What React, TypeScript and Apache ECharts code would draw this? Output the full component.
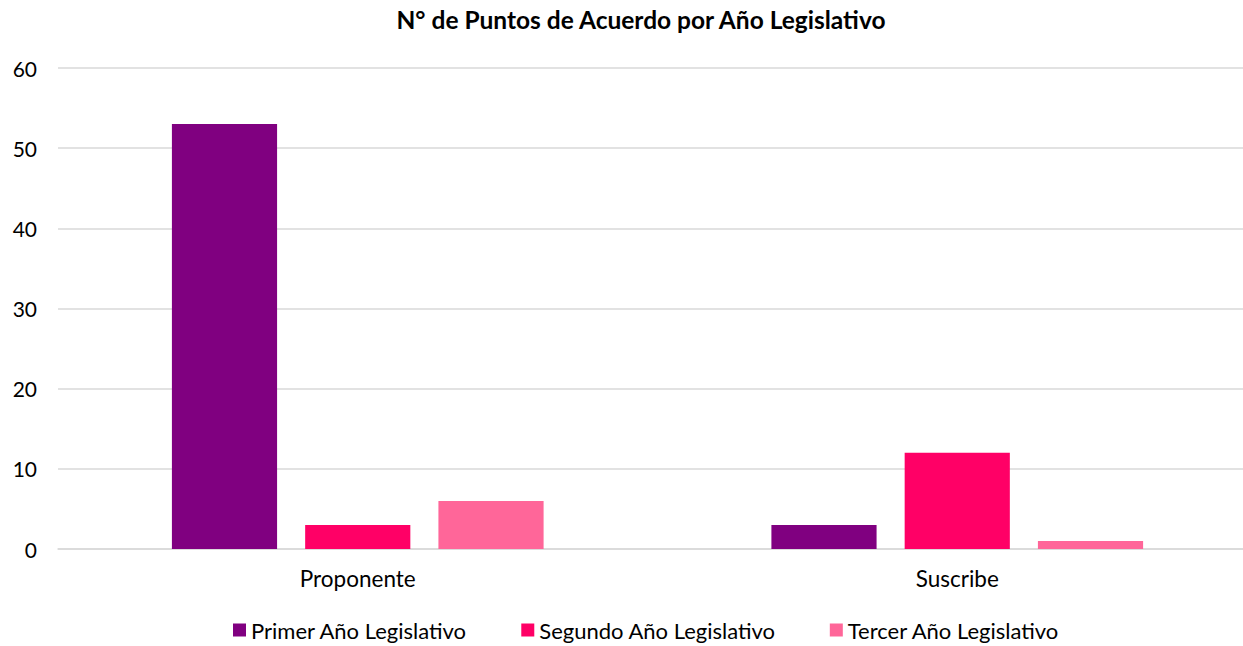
import React, { useEffect, useRef } from "react";
import * as echarts from "echarts";

const categories = ["Proponente", "Suscribe"];
const seriesNames = ["Primer Año Legislativo", "Segundo Año Legislativo", "Tercer Año Legislativo"];
const primerValues = [53, 3];
const segundoValues = [3, 12];
const tercerValues = [6, 1];
const colors = ["#800080", "#FF0066", "#FF6699"];

const FONT = "Lato, 'Open Sans', sans-serif";

export default function App() {
  const ref = useRef<HTMLDivElement>(null);
  useEffect(() => {
    if (!ref.current) return;
    const chart = echarts.init(ref.current, undefined, { renderer: "svg" });
    const values = [primerValues, segundoValues, tercerValues];
    chart.setOption({
      animation: false,
      title: {
        text: "N° de Puntos de Acuerdo por Año Legislativo",
        left: 636,
        top: 2,
        textAlign: "center",
        textStyle: { fontFamily: FONT, fontSize: 24.5, fontWeight: "bold", color: "#000" },
      },
      legend: {
        bottom: 0,
        left: 228,
        width: 1040,
        itemWidth: 13,
        itemHeight: 13,
        itemGap: 54,
        icon: "rect",
        textStyle: { fontFamily: FONT, fontSize: 22, color: "#000" },
        data: seriesNames,
      },
      grid: { left: 58, right: 14, top: 68, bottom: 97, containLabel: false },
      xAxis: {
        type: "category",
        data: categories,
        axisLine: { show: true, lineStyle: { color: "#d9d9d9", width: 1.5 } },
        axisTick: { show: false },
        axisLabel: { fontFamily: FONT, fontSize: 22.5, color: "#000", margin: 18 },
      },
      yAxis: {
        type: "value",
        min: 0,
        max: 60,
        interval: 10,
        axisLine: { show: false },
        axisTick: { show: false },
        splitLine: { lineStyle: { color: "#d9d9d9", width: 1.5 } },
        axisLabel: { fontFamily: FONT, fontSize: 21, color: "#000", margin: 21 },
      },
      series: seriesNames.map((name, i) => ({
        name,
        type: "bar",
        data: values[i],
        barGap: "26.7%",
        barCategoryGap: "38%",
        itemStyle: { color: colors[i] },
      })),
    });
    return () => chart.dispose();
  }, []);
  return (
    <div style={{ position: "fixed", left: 0, top: 0, width: 1243, height: 646, overflow: "hidden", background: "#fff" }}>
      <div ref={ref} style={{ width: 1271, height: 646 }} />
    </div>
  );
}
